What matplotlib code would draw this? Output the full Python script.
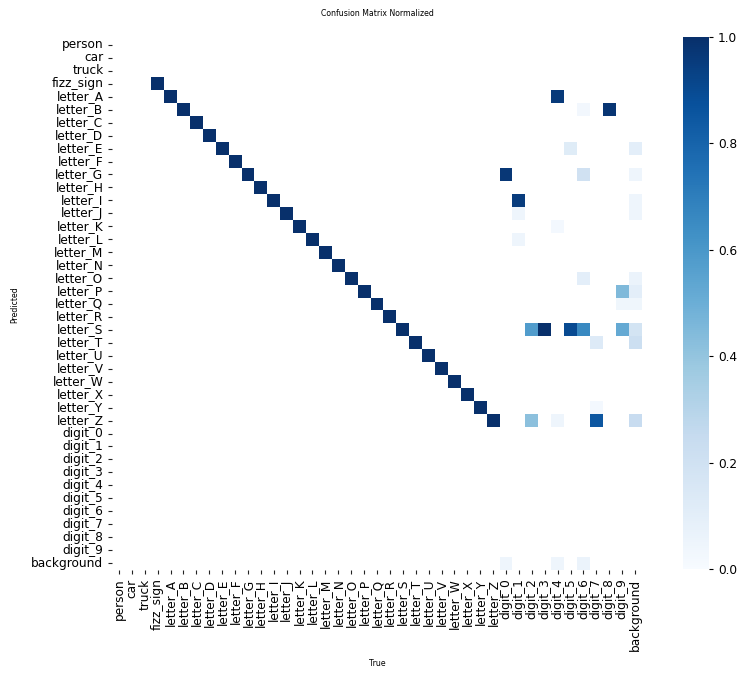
import numpy as np
import matplotlib
matplotlib.use("Agg")
import matplotlib.pyplot as plt
import seaborn as sns

# ---- data ----
classes = (["person", "car", "truck", "fizz_sign"]
           + [f"letter_{c}" for c in "ABCDEFGHIJKLMNOPQRSTUVWXYZ"]
           + [f"digit_{d}" for d in range(10)]
           + ["background"])

# diagonal (correct) classes with their normalized value
diag_labels = ["fizz_sign"] + [f"letter_{c}" for c in "ABCDEFGHIJKLMNOPQRSTUVWXYZ"]
diag_values = [1.0] * len(diag_labels)

# off-diagonal cells: predicted row, true column, value
off_pred = ["letter_A", "letter_B", "letter_B", "letter_E", "letter_E",
            "letter_G", "letter_G", "letter_G",
            "letter_I", "letter_I", "letter_J", "letter_J", "letter_K", "letter_L",
            "letter_O", "letter_O", "letter_P", "letter_P", "letter_Q", "letter_Q",
            "letter_S", "letter_S", "letter_S", "letter_S", "letter_S", "letter_S",
            "letter_T", "letter_T", "letter_Y",
            "letter_Z", "letter_Z", "letter_Z", "letter_Z",
            "background", "background", "background"]
off_true = ["digit_4", "digit_6", "digit_8", "digit_5", "background",
            "digit_0", "digit_6", "background",
            "digit_1", "background", "digit_1", "background", "digit_4", "digit_1",
            "digit_6", "background", "digit_9", "background", "digit_9", "background",
            "digit_2", "digit_3", "digit_5", "digit_6", "digit_9", "background",
            "digit_7", "background", "digit_7",
            "digit_2", "digit_4", "digit_7", "background",
            "digit_0", "digit_4", "digit_6"]
off_vals = [0.96, 0.03, 0.98, 0.12, 0.10,
            0.97, 0.20, 0.05,
            0.95, 0.05, 0.05, 0.05, 0.02, 0.05,
            0.10, 0.06, 0.45, 0.10, 0.04, 0.04,
            0.58, 1.00, 0.90, 0.66, 0.52, 0.18,
            0.13, 0.22, 0.02,
            0.42, 0.05, 0.85, 0.24,
            0.05, 0.05, 0.06]

n = len(classes)
idx = {c: i for i, c in enumerate(classes)}
mat = np.full((n, n), np.nan)
for lab, v in zip(diag_labels, diag_values):
    mat[idx[lab], idx[lab]] = v
for r, c, v in zip(off_pred, off_true, off_vals):
    mat[idx[r], idx[c]] = v

# ---- plot ----
W, H = 741, 673
fig = plt.figure(figsize=(W / 100, H / 100), dpi=100)
ax = fig.add_axes([112.5 / W, 1 - 569.5 / H, 529 / W, 531 / H])
cax = fig.add_axes([683 / W, 1 - 569 / H, 26 / W, 532 / H])

sns.heatmap(mat, ax=ax, cbar_ax=cax, cmap="Blues", vmin=0.0, vmax=1.0,
            xticklabels=classes, yticklabels=classes, annot=False)
ax.set_facecolor((1, 1, 1))

fs = 8.7
ax.tick_params(axis="both", labelsize=fs, length=3, width=0.8, color="#222222")
ax.set_xticklabels(classes, rotation=90, fontsize=fs)
ax.set_yticklabels(classes, rotation=0, fontsize=fs)
cax.tick_params(labelsize=fs, length=3, width=0.8)
cax.set_yticks([0.0, 0.2, 0.4, 0.6, 0.8, 1.0])
cax.set_yticklabels(["0.0", "0.2", "0.4", "0.6", "0.8", "1.0"])

fig.text(377 / W, 1 - 13 / H, "Confusion Matrix Normalized", ha="center", va="center", fontsize=5.6)
fig.text(377 / W, 1 - 663 / H, "True", ha="center", va="center", fontsize=5.6)
fig.text(15 / W, 1 - 305 / H, "Predicted", ha="center", va="center", rotation=90, fontsize=5.6)

fig.savefig("out.png", dpi=100)
